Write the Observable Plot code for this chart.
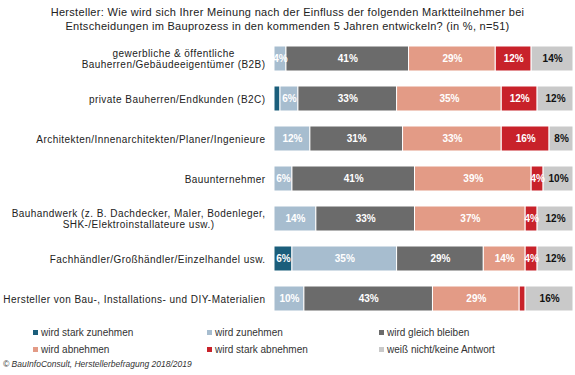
<!DOCTYPE html>
<html><head><meta charset="utf-8">
<script src="https://cdn.jsdelivr.net/npm/d3@7"></script>
<script src="https://cdn.jsdelivr.net/npm/@observablehq/plot@0.6"></script>
<style>
body{margin:0;background:#fff;font-family:"Liberation Sans",Arial,sans-serif;}
#wrap{position:relative;width:575px;height:375px;overflow:hidden;}
#title{position:absolute;top:5px;left:0;width:575px;text-align:center;font-size:11px;line-height:14px;color:#222;letter-spacing:0.3px;}
#chart{position:absolute;top:36px;left:0;}
#chart g[aria-label="y-axis tick label"]{letter-spacing:0.45px;}
.leg{position:absolute;font-size:10px;color:#333;white-space:nowrap;line-height:12px;}
.leg span.sw{display:inline-block;width:5px;height:5px;margin-right:3px;vertical-align:1px;}
#caption{position:absolute;left:3px;top:359px;font-size:8.5px;font-style:italic;color:#333;}
</style></head>
<body>
<div id="wrap">
<div id="title">Hersteller: Wie wird sich Ihrer Meinung nach der Einfluss der folgenden Marktteilnehmer bei<br>Entscheidungen im Bauprozess in den kommenden 5 Jahren entwickeln? (in %, n=51)</div>
<div id="chart"></div>
<div id="legend"></div>
<div id="caption">© BauInfoConsult, Herstellerbefragung 2018/2019</div>
</div>
<script>
const categories = [
  "gewerbliche & öffentliche\nBauherren/Gebäudeeigentümer (B2B)",
  "private Bauherren/Endkunden (B2C)",
  "Architekten/Innenarchitekten/Planer/Ingenieure",
  "Bauunternehmer",
  "Bauhandwerk (z. B. Dachdecker, Maler, Bodenleger,\nSHK-/Elektroinstallateure usw.)",
  "Fachhändler/Großhändler/Einzelhandel usw.",
  "Hersteller von Bau-, Installations- und DIY-Materialien"
];
const seriesNames = ["wird stark zunehmen","wird zunehmen","wird gleich bleiben","wird abnehmen","wird stark abnehmen","weiß nicht/keine Antwort"];
const starkZunehmen = [0, 2, 0, 0, 0, 6, 0];
const zunehmen      = [4, 6, 12, 6, 14, 35, 10];
const gleichBleiben = [41, 33, 31, 41, 33, 29, 43];
const abnehmen      = [29, 35, 33, 39, 37, 14, 29];
const starkAbnehmen = [12, 12, 16, 4, 4, 4, 2];
const weissNicht    = [14, 12, 8, 10, 12, 12, 16];
const colors = ["#1b5e7b","#a7bdcf","#6b6b6b","#e39b86","#c8222a","#c9c9c9"];

const seriesValues = [starkZunehmen, zunehmen, gleichBleiben, abnehmen, starkAbnehmen, weissNicht];
const data = [];
categories.forEach((c, i) => {
  seriesNames.forEach((s, j) => data.push({cat: c, series: s, value: seriesValues[j][i]}));
});
const lastSeries = seriesNames[seriesNames.length - 1];
const minLabel = 3;

const chart = Plot.plot({
  width: 575, height: 284,
  marginLeft: 274, marginRight: 2, marginTop: 1, marginBottom: 0,
  style: {fontFamily: "Liberation Sans, Arial, sans-serif", fontSize: "10px", color: "#222", background: "transparent"},
  x: {domain: [0, 100], axis: null},
  y: {domain: categories, paddingInner: 0.38, paddingOuter: 0.19, axis: null},
  color: {domain: seriesNames, range: colors},
  marks: [
    Plot.barX(data, Plot.stackX({x: "value", y: "cat", z: "series", fill: "series", order: seriesNames, stroke: "white", strokeWidth: 1})),
    Plot.text(data, Plot.stackX({x: "value", y: "cat", z: "series", order: seriesNames,
      text: d => (d.series !== lastSeries && d.value >= minLabel) ? d.value + "%" : "",
      fill: "white", fontWeight: "bold", fontSize: 10})),
    Plot.text(data, Plot.stackX({x: "value", y: "cat", z: "series", order: seriesNames,
      text: d => (d.series === lastSeries && d.value >= minLabel) ? d.value + "%" : "",
      fill: "#111", fontWeight: "bold", fontSize: 10})),
    Plot.axisY({tickSize: 0, tickPadding: 9, fontSize: 10, label: null, lineHeight: 1.15})
  ]
});
document.getElementById("chart").appendChild(chart);

// center multi-line axis labels within their block (right edge kept)
chart.querySelectorAll('g[aria-label="y-axis tick label"] text').forEach(t => {
  const spans = t.querySelectorAll("tspan");
  if (spans.length > 1) {
    let maxW = 0;
    spans.forEach(s => { maxW = Math.max(maxW, s.getComputedTextLength()); });
    t.setAttribute("text-anchor", "middle");
    spans.forEach(s => s.setAttribute("x", -maxW / 2));
  }
});

// legend
const legendPos = [[33, 327], [207, 327], [379, 327], [33, 344], [207, 344], [379, 344]];
const legend = document.getElementById("legend");
seriesNames.forEach((s, i) => {
  const d = document.createElement("div");
  d.className = "leg";
  d.style.left = legendPos[i][0] + "px";
  d.style.top = legendPos[i][1] + "px";
  d.innerHTML = `<span class="sw" style="background:${colors[i]}"></span>${s}`;
  legend.appendChild(d);
});
</script>
</body></html>
